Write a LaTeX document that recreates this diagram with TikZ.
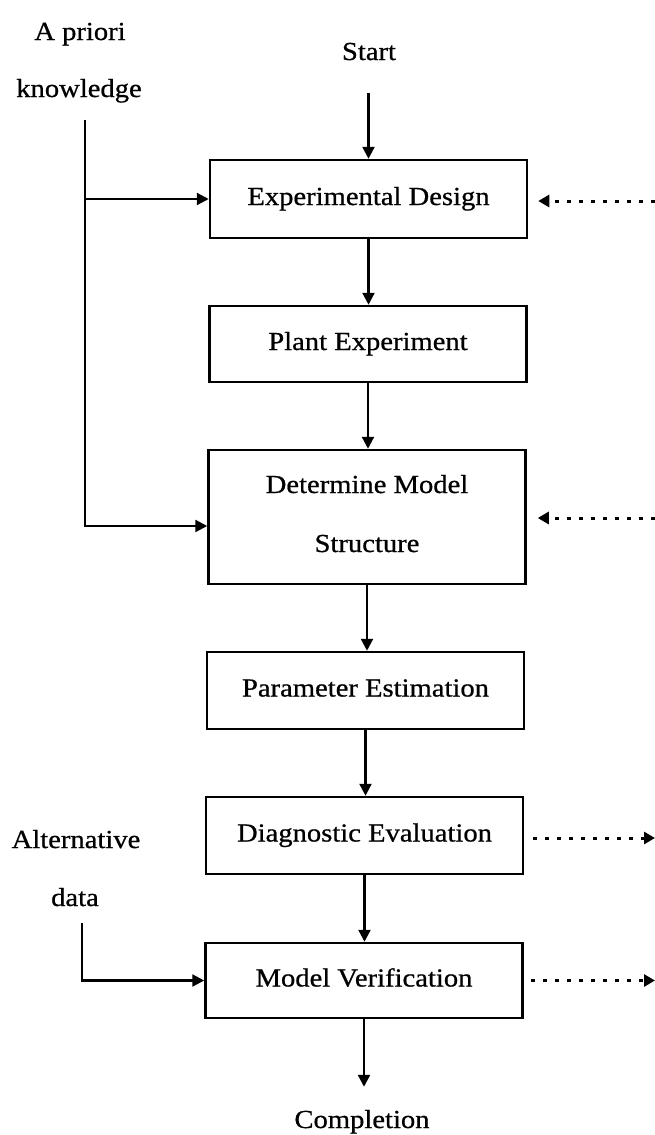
\documentclass[tikz,border=0pt]{standalone}
\usepackage{fontspec}
\setmainfont{Liberation Serif}[FakeStretch=1.1,FakeBold=0.7]
\usetikzlibrary{arrows.meta}
\begin{document}
\begin{tikzpicture}[x=1pt,y=-1pt,
  every node/.style={font=\fontsize{26}{30}\selectfont},
  box/.style={draw,line width=2.5pt,minimum width=317pt,inner sep=0pt,text height=12pt,text depth=0pt},
  lbl/.style={inner sep=0pt,anchor=base},
  arr/.style={line width=2.3pt,-{Triangle[length=12pt,width=12pt]}},
  dotarr/.style={line width=3pt,dash pattern=on 4pt off 8pt,-{Triangle[length=11pt,width=12pt]}}]
\useasboundingbox (0,0) rectangle (655,1135);
% boxes
\node[box,minimum height=78pt] (ed) at (368.5,199) {Experimental Design};
\node[box,minimum height=76pt] (pe) at (368,344) {Plant Experiment};
\node[box,minimum height=134pt] (dm) at (367,517) {};
\node[lbl] (dm1) at (367,493) {Determine Model};
\node[lbl] (dm2) at (367,552) {Structure};
\node[box,minimum height=77pt] (pm) at (365.5,690.5) {Parameter Estimation};
\node[box,minimum height=77pt] (de) at (364.5,835.5) {Diagnostic Evaluation};
\node[box,minimum height=75pt] (mv) at (364,980.5) {Model Verification};
% labels
\node[lbl] (ap1) at (80,40) {A priori};
\node[lbl] (ap2) at (79,97) {knowledge};
\node[lbl] (st) at (369,60) {Start};
\node[lbl] (al1) at (76,848) {Alternative};
\node[lbl] (al2) at (75,906) {data};
\node[lbl] (cp) at (362,1128) {Completion};
% coordinates
\coordinate (apk) at (85,120);
\coordinate (dat) at (82,923);
\coordinate (fb1) at (655,201);
\coordinate (fb2) at (655,518);
\coordinate (fo1) at (655,838);
\coordinate (fo2) at (655,980.5);
% main flow
\draw[arr] ([yshift=-33pt]ed.north |- st.south) -- (ed.north);
\draw[arr] (ed.south) -- (ed.south |- pe.north);
\draw[arr] (pe.south) -- (pe.south |- dm.north);
\draw[arr] (dm.south) -- (dm.south |- pm.north);
\draw[arr] (pm.south) -- (pm.south |- de.north);
\draw[arr] (de.south) -- (de.south |- mv.north);
\draw[arr] (mv.south) -- ([yshift=23pt]mv.south |- cp.north);
% a priori knowledge
\draw[arr] (apk) |- ([yshift=-9pt]dm.west);
\draw[arr] (apk |- ed.west) -- (ed.west);
% alternative data
\draw[arr] (dat) |- (mv.west);
% dotted feedback
\draw[dotarr] (fb1) -- ([xshift=10pt]ed.east |- fb1);
\draw[dotarr] (fb2) -- ([xshift=11pt]dm.east |- fb2);
\draw[dotarr] ([xshift=9pt]de.east |- fo1) -- (fo1);
\draw[dotarr] ([xshift=7pt]mv.east) -- (fo2);
\end{tikzpicture}
\end{document}
